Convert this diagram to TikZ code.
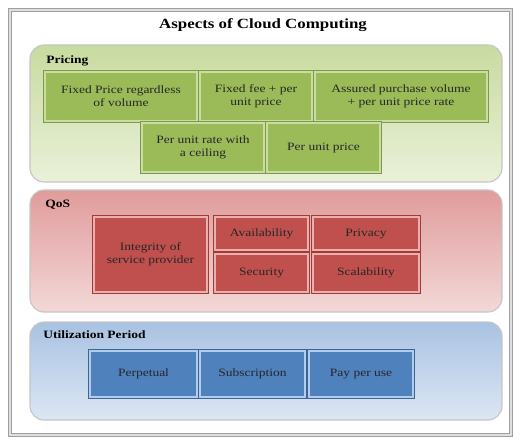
\documentclass[tikz,border=0pt]{standalone}
\usepackage{fontspec}
\setmainfont{Liberation Serif}[FakeStretch=1.2]
\definecolor{pricegreen}{HTML}{9BBB59}
\definecolor{pricelight}{HTML}{C9DCA4}
\definecolor{pricedark}{HTML}{7E9A47}
\definecolor{pricepanel}{HTML}{C8DB9F}
\definecolor{qosred}{HTML}{C0504D}
\definecolor{qoslight}{HTML}{EAB0AE}
\definecolor{qosdark}{HTML}{9E3B38}
\definecolor{qospanel}{HTML}{E09C9B}
\definecolor{useblue}{HTML}{4F81BD}
\definecolor{uselight}{HTML}{B3CCEA}
\definecolor{usedark}{HTML}{3A6599}
\definecolor{usepanel}{HTML}{A9C2E2}

\begin{document}
\begin{tikzpicture}[x=0.025cm, y=-0.025cm,
    box/.style={rectangle, inner sep=1pt, align=center, line width=0.9pt,
        text=black!85, font=\fontsize{8}{9.3}\selectfont},
    pricebox/.style={box, fill=pricegreen, draw=pricelight,
        preaction={draw=pricedark, line width=2.4pt}},
    qosbox/.style={box, fill=qosred, draw=qoslight,
        preaction={draw=qosdark, line width=2.4pt}},
    usebox/.style={box, fill=useblue, draw=uselight,
        preaction={draw=usedark, line width=2.4pt}},
    heading/.style={anchor=west, inner sep=0pt, font=\bfseries\fontsize{8}{9}\selectfont},
    panel/.style={rounded corners=10pt, draw=gray!45, line width=0.8pt}]

    % page and outer frame
    \fill[white] (0,0) rectangle (513,439);
    \useasboundingbox (0,0) rectangle (513,439);
    \draw[gray!75, double=gray!25, line width=1pt, double distance=1.1pt] (10,10) rectangle (511,435);

    \node[inner sep=0pt, font=\bfseries\fontsize{10}{12}\selectfont] (title) at (263,25) {Aspects of Cloud Computing};

    % Pricing panel
    \shade[panel, shading angle=200, top color=pricepanel, bottom color=pricepanel!40] (30,45) rectangle (502,182);
    \node[heading] (pricing) at (46,61) {Pricing};

    \node[pricebox, minimum width=3.8cm, minimum height=1.225cm] (fixedprice) at (121,96.5) {Fixed Price regardless\\of volume};
    \node[pricebox, minimum width=2.8cm, minimum height=1.225cm] (fixedfee) at (256,96.5) {Fixed fee + per\\unit price};
    \node[pricebox, minimum width=4.3cm, minimum height=1.225cm] (assured) at (401,96.5) {Assured purchase volume\\+ per unit price rate};
    \node[pricebox, minimum width=3.05cm, minimum height=1.225cm] (ceiling) at (203,147.5) {Per unit rate with\\a ceiling};
    \node[pricebox, minimum width=2.825cm, minimum height=1.225cm] (unitprice) at (323.5,147.5) {Per unit price};

    % QoS panel
    \shade[panel, shading angle=200, top color=qospanel, bottom color=qospanel!40] (30,190) rectangle (502,312);
    \node[heading] (qos) at (45,205) {QoS};

    \node[qosbox, minimum width=2.825cm, minimum height=1.875cm] (integrity) at (150.5,254.5) {Integrity of\\service provider};
    \node[qosbox, minimum width=2.325cm, minimum height=0.825cm] (availability) at (261.5,233.5) {Availability};
    \node[qosbox, minimum width=2.65cm, minimum height=0.825cm] (privacy) at (366,233.5) {Privacy};
    \node[qosbox, minimum width=2.325cm, minimum height=0.95cm] (security) at (261.5,273) {Security};
    \node[qosbox, minimum width=2.65cm, minimum height=0.95cm] (scalability) at (366,273) {Scalability};

    % Utilization period panel
    \shade[panel, shading angle=200, top color=usepanel, bottom color=usepanel!40] (30,322) rectangle (502,420);
    \node[heading] (period) at (43,335) {Utilization Period};

    \node[usebox, minimum width=2.675cm, minimum height=1.15cm] (perpetual) at (143.5,374) {Perpetual};
    \node[usebox, minimum width=2.625cm, minimum height=1.15cm] (subscription) at (252.5,374) {Subscription};
    \node[usebox, minimum width=2.6cm, minimum height=1.15cm] (payperuse) at (361,374) {Pay per use};
%
\end{tikzpicture}
\end{document}
